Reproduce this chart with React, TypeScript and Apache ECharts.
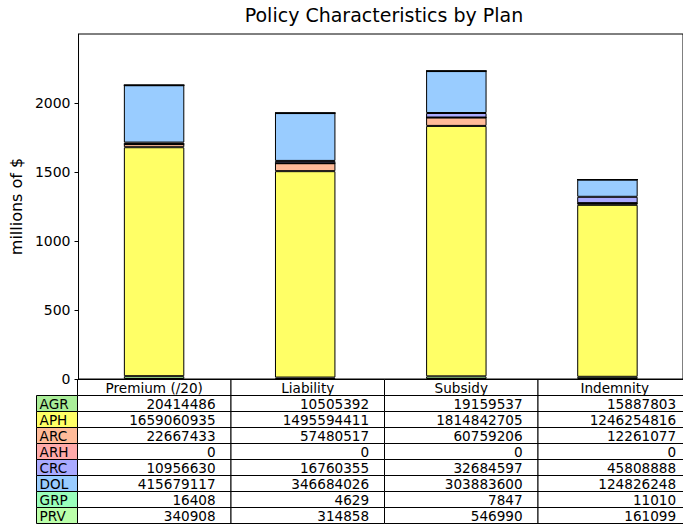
import React, { useEffect, useRef } from "react";
import * as echarts from "echarts";

const title = "Policy Characteristics by Plan";
const yAxisName = "millions of $";
const columns = ["Premium (/20)", "Liability", "Subsidy", "Indemnity"];
const rowNames = ["AGR", "APH", "ARC", "ARH", "CRC", "DOL", "GRP", "PRV"];
const AGR = [20414486, 10505392, 19159537, 15887803];
const APH = [1659060935, 1495594411, 1814842705, 1246254816];
const ARC = [22667433, 57480517, 60759206, 12261077];
const ARH = [0, 0, 0, 0];
const CRC = [10956630, 16760355, 32684597, 45808888];
const DOL = [415679117, 346684026, 303883600, 124826248];
const GRP = [16408, 4629, 7847, 11010];
const PRV = [340908, 314858, 546990, 161099];
const rowValues = [AGR, APH, ARC, ARH, CRC, DOL, GRP, PRV];
const rowColors = ["#aaee99", "#ffff66", "#ffbb99", "#ffaaaa", "#aaaaff", "#99ccff", "#99ffbb", "#bbffaa"];
const yTicks = [0, 500, 1000, 1500, 2000];
const yMax = 2500;

const FONT = '"DejaVu Sans", sans-serif';
const GRID_LEFT = 77;
const GRID_TOP = 34;
const GRID_W = 614;
const GRID_H = 345;
const ROW_H = 16;
const LABEL_W = 41;
const CELL_FONT = 13.6;

export default function App() {
  const ref = useRef<HTMLDivElement>(null);
  useEffect(() => {
    if (!ref.current) return;
    const chart = echarts.init(ref.current, undefined, { renderer: "svg" });

    const colW = GRID_W / columns.length;
    const tableTop = GRID_TOP + GRID_H + 0.5;
    const left = GRID_LEFT + 0.5;
    const graphics: any[] = [];
    const cellText = (x: number, y: number, text: string, align: string) => ({
      type: "text",
      x,
      y,
      z: 11,
      style: { text, font: `${CELL_FONT}px ${FONT}`, lineHeight: 14, fill: "#000", textAlign: align, textVerticalAlign: "middle" },
    });
    graphics.push({
      type: "text",
      x: GRID_LEFT + GRID_W / 2,
      y: 15,
      style: { text: title, font: `19px ${FONT}`, fill: "#000", textAlign: "center", textVerticalAlign: "middle" },
    });
    columns.forEach((c, j) => {
      const x0 = left + j * colW;
      graphics.push({
        type: "rect",
        shape: { x: x0, y: tableTop, width: colW, height: ROW_H },
        style: { fill: "#fff", stroke: "#000", lineWidth: 1 },
        z: 10,
      });
      graphics.push(cellText(x0 + colW / 2, tableTop + ROW_H / 2 + 0.5, c, "center"));
    });
    rowNames.forEach((r, i) => {
      const y0 = tableTop + (i + 1) * ROW_H;
      graphics.push({
        type: "rect",
        shape: { x: left - LABEL_W, y: y0, width: LABEL_W, height: ROW_H },
        style: { fill: rowColors[i], stroke: "#000", lineWidth: 1 },
        z: 10,
      });
      graphics.push(cellText(left - LABEL_W + LABEL_W * 0.1 - 1, y0 + ROW_H / 2 + 0.5, r, "left"));
      columns.forEach((c, j) => {
        const x0 = left + j * colW;
        graphics.push({
          type: "rect",
          shape: { x: x0, y: y0, width: colW, height: ROW_H },
          style: { fill: "#fff", stroke: "#000", lineWidth: 1 },
          z: 10,
        });
        graphics.push(cellText(x0 + colW * 0.9, y0 + ROW_H / 2 + 0.5, String(rowValues[i][j]), "right"));
      });
    });

    chart.setOption({
      animation: false,
      grid: {
        left: GRID_LEFT,
        top: GRID_TOP,
        width: GRID_W,
        height: GRID_H,
        show: true,
        borderColor: "#000",
        borderWidth: 1,
        backgroundColor: "transparent",
      },
      xAxis: {
        type: "category",
        data: columns,
        axisLabel: { show: false },
        axisTick: { show: false },
        axisLine: { show: false },
      },
      yAxis: {
        type: "value",
        min: 0,
        max: yMax,
        interval: 500,
        name: yAxisName,
        nameLocation: "middle",
        nameGap: 54,
        nameTextStyle: { fontFamily: FONT, fontSize: 16, color: "#000" },
        axisLine: { show: true, lineStyle: { color: "#000" } },
        axisTick: { show: true, inside: false, length: 4, lineStyle: { color: "#000" }, customValues: yTicks },
        axisLabel: {
          fontFamily: FONT,
          fontSize: 14,
          color: "#000",
          margin: 8,
          customValues: yTicks,
          formatter: (v: number) => String(v),
        },
        splitLine: { show: false },
      },
      series: rowNames.map((r, i) => ({
        name: r,
        type: "bar",
        stack: "total",
        barWidth: "40%",
        data: rowValues[i].map((v) => v / 1e6),
        itemStyle: { color: rowColors[i], borderColor: "#000", borderWidth: 1 },
      })),
      graphic: graphics,
    });
    return () => chart.dispose();
  }, []);
  return <div ref={ref} style={{ position: "fixed", left: 0, top: 0, width: 683, height: 524, background: "#fff" }} />;
}
